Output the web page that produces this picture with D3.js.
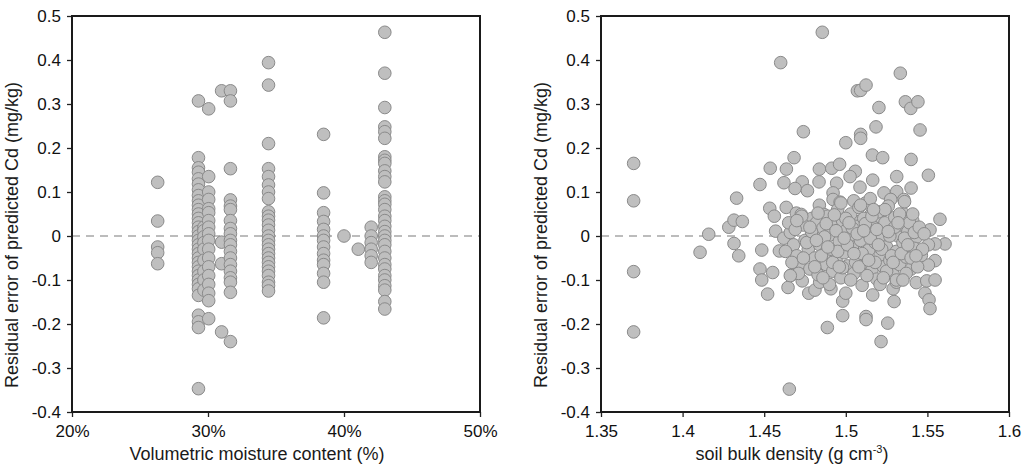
<!DOCTYPE html>
<html>
<head>
<meta charset="utf-8">
<script src="https://cdn.jsdelivr.net/npm/d3@7"></script>
<style>
  body { margin: 0; background: #fff; }
  text { font-family: "Liberation Sans", Arial, sans-serif; fill: #1a1a1a; }
</style>
</head>
<body>
<svg id="chart" width="1026" height="473"></svg>
<script>
// left panel: moisture columns and the residuals stacked in each
var moistureCols = [26.3, 29.3, 29.7, 30.05, 31.0, 31.65, 34.45, 38.5, 40.0, 41.05, 42.0, 43.0];
var residualByMoisture = [
  [0.122, 0.034, -0.025, -0.038, -0.063],
  [0.307, 0.178, 0.155, 0.145, 0.13, 0.118, 0.105, 0.092, 0.08, 0.07, 0.06, 0.05, 0.04, 0.03, 0.02, 0.01, 0.0,
   -0.01, -0.02, -0.03, -0.04, -0.05, -0.06, -0.07, -0.08, -0.09, -0.1, -0.11, -0.12, -0.135, -0.18, -0.195, -0.208, -0.347],
  [0.02, 0.012, -0.002, -0.015, -0.03, -0.055, -0.08, -0.1, -0.123],
  [0.289, 0.135, 0.1, 0.083, 0.062, 0.053, 0.035, 0.02, 0.005, -0.01, -0.03, -0.05, -0.07, -0.09, -0.11, -0.13, -0.147, -0.188],
  [0.33, -0.014, -0.063, -0.218],
  [0.33, 0.307, 0.153, 0.082, 0.068, 0.06, 0.035, 0.017, 0.005, -0.01, -0.02, -0.035, -0.05, -0.065, -0.08, -0.095, -0.105, -0.128, -0.24],
  [0.394, 0.343, 0.21, 0.153, 0.135, 0.116, 0.1, 0.085, 0.055, 0.045, 0.036, 0.025, 0.013, 0.0, -0.01, -0.02, -0.03,
   -0.04, -0.05, -0.06, -0.07, -0.08, -0.09, -0.105, -0.113, -0.125],
  [0.231, 0.098, 0.053, 0.033, 0.015, 0.0, -0.01, -0.025, -0.04, -0.055, -0.065, -0.085, -0.105, -0.186],
  [0.0],
  [-0.03],
  [0.02, 0.0, -0.015, -0.03, -0.045, -0.06],
  [0.463, 0.37, 0.292, 0.248, 0.237, 0.222, 0.18, 0.172, 0.165, 0.148, 0.135, 0.123, 0.089, 0.08, 0.072, 0.06, 0.045,
   0.035, 0.022, 0.01, 0.0, -0.01, -0.02, -0.035, -0.05, -0.065, -0.075, -0.09, -0.1, -0.113, -0.123, -0.149, -0.166]
];

// right panel: [bulk density, residual]
var densityOuter = [
  [1.37,0.165],[1.37,0.08],[1.37,-0.081],[1.37,-0.218],[1.4856,0.463],[1.4601,0.394],[1.5334,0.37],[1.5071,0.33],
  [1.5091,0.331],[1.5124,0.343],[1.5203,0.292],[1.5365,0.305],[1.5398,0.29],[1.5442,0.305],[1.5185,0.248],
  [1.5091,0.231],[1.5091,0.222],[1.5455,0.241],[1.474,0.237],[1.5,0.212],[1.5163,0.184],[1.5226,0.178],
  [1.54,0.174],[1.4683,0.178],[1.4537,0.154],[1.4636,0.152],[1.4838,0.152],[1.4914,0.154],[1.4962,0.163],
  [1.5058,0.147],[1.5312,0.135],[1.5506,0.138],[1.5026,0.135],[1.4474,0.117],[1.4621,0.121],[1.4733,0.123],
  [1.4836,0.123],[1.4689,0.108],[1.4765,0.103],[1.4944,0.12],[1.5087,0.111],[1.5165,0.127],[1.5312,0.101],
  [1.54,0.109],[1.5234,0.098],[1.4922,0.098],[1.4331,0.086],[1.4922,0.083],[1.4965,0.077],[1.5275,0.083],
  [1.5356,0.083],[1.4534,0.063],[1.4635,0.065],[1.4838,0.07],[1.5049,0.08],[1.5121,0.075],[1.4562,0.045],
  [1.4283,0.02],[1.4315,0.036],[1.4366,0.033],[1.4697,0.052],[1.4727,0.049],[1.4792,0.04],[1.4866,0.049],
  [1.4961,0.038],[1.501,0.04],[1.5083,0.033],[1.5155,0.049],[1.5195,0.044],[1.5355,0.05],[1.5384,0.033],
  [1.5577,0.038],[1.5516,0.014],[1.5436,0.02],[1.416,0.004],[1.469,0.022],[1.457,0.011],[1.485,0.013],
  [1.4904,0.017],[1.4972,0.013],[1.5102,0.005],[1.5199,0.013],[1.5279,0.013],
  [1.4107,-0.037],[1.4315,-0.017],[1.4344,-0.045],[1.4485,-0.032],[1.4474,-0.075],[1.4485,-0.1],[1.4521,-0.132],
  [1.4552,-0.083],[1.4593,-0.034],[1.4664,-0.089],[1.4646,-0.117],[1.4733,-0.102],[1.4773,-0.13],[1.4811,-0.123],
  [1.484,-0.105],[1.4887,-0.208],[1.4654,-0.348],[1.4909,-0.12],[1.4981,-0.181],[1.4981,-0.148],[1.5,-0.13],
  [1.5124,-0.183],[1.5124,-0.19],[1.5165,-0.134],[1.5216,-0.24],[1.5257,-0.198],[1.5296,-0.149],[1.529,-0.12],
  [1.531,-0.105],[1.5485,-0.13],[1.551,-0.145],[1.5516,-0.165],[1.5432,-0.106],[1.5496,-0.102],[1.5547,-0.1],
  [1.5547,-0.056],[1.5506,-0.066],[1.5463,-0.044],[1.5608,-0.018],[1.5547,-0.018],[1.5506,-0.02],[1.5435,-0.002]
];
var densityCore = [
  [1.462,-0.005],[1.466,0.008],[1.468,-0.02],[1.470,-0.045],[1.472,-0.062],[1.474,0.025],[1.475,-0.01],[1.477,-0.03],
  [1.478,-0.075],[1.480,0.005],[1.481,-0.05],[1.482,0.03],[1.483,-0.088],[1.484,-0.02],[1.486,0.018],[1.487,-0.04],
  [1.488,-0.065],[1.489,0.045],[1.490,0.002],[1.491,-0.03],[1.492,-0.08],[1.493,0.025],[1.494,-0.055],[1.495,0.06],
  [1.496,-0.012],[1.497,-0.095],[1.498,0.035],[1.499,-0.038],[1.500,0.012],[1.501,-0.068],[1.502,-0.005],[1.503,0.05],
  [1.504,-0.025],[1.505,-0.085],[1.506,0.022],[1.507,-0.048],[1.508,0.065],[1.509,-0.01],[1.510,-0.112],[1.511,0.04],
  [1.512,-0.06],[1.513,0.008],[1.514,-0.032],[1.515,0.085],[1.516,-0.078],[1.517,0.02],[1.518,-0.015],[1.519,-0.098],
  [1.520,0.055],[1.521,-0.045],[1.522,0.003],[1.523,-0.07],[1.524,0.03],[1.525,-0.025],[1.526,0.068],[1.527,-0.055],
  [1.528,0.012],[1.529,-0.088],[1.530,0.042],[1.531,-0.035],[1.532,0.0],[1.533,-0.065],[1.534,0.025],[1.535,-0.015],
  [1.536,0.078],[1.537,-0.048],[1.538,0.01],[1.540,-0.075],[1.541,0.035],[1.542,-0.028],
  [1.463,-0.035],[1.465,0.03],[1.467,-0.06],[1.469,0.015],[1.471,-0.085],[1.473,0.045],[1.476,-0.015],[1.479,0.01],
  [1.481,-0.07],[1.483,0.052],[1.485,-0.045],[1.487,-0.002],[1.488,0.028],[1.490,-0.11],[1.492,-0.06],[1.494,0.012],
  [1.495,-0.035],[1.497,0.075],[1.498,-0.072],[1.500,0.04],[1.501,-0.02],[1.503,-0.1],[1.504,0.018],[1.506,-0.06],
  [1.507,0.005],[1.509,0.07],[1.510,-0.04],[1.512,0.028],[1.513,-0.09],[1.515,-0.005],[1.516,0.045],[1.518,-0.06],
  [1.519,0.015],[1.521,-0.11],[1.522,-0.03],[1.524,0.06],[1.525,-0.08],[1.527,0.0],[1.528,-0.045],[1.530,0.02],
  [1.531,-0.1],[1.533,0.05],[1.534,-0.04],[1.536,-0.005],[1.537,-0.085],[1.539,0.03],[1.540,-0.05],[1.542,0.008],
  [1.544,-0.07],[1.545,0.02],[1.547,-0.03],[1.548,0.005],
  [1.466,-0.09],[1.470,0.035],[1.474,-0.05],[1.478,0.02],[1.482,-0.01],[1.486,-0.095],[1.489,-0.025],[1.493,0.048],
  [1.496,-0.07],[1.499,-0.005],[1.502,0.03],[1.505,-0.04],[1.508,-0.07],[1.511,0.012],[1.514,-0.055],[1.517,0.06],
  [1.520,-0.02],[1.523,-0.095],[1.526,0.01],[1.529,-0.06],[1.532,0.03],[1.535,-0.1],[1.538,-0.02],[1.541,0.05],
  [1.543,-0.045]
];

var yTicks = [-0.4, -0.3, -0.2, -0.1, 0, 0.1, 0.2, 0.3, 0.4, 0.5];
var moistureTicks = [20, 30, 40, 50];
var densityTicks = [1.35, 1.4, 1.45, 1.5, 1.55, 1.6];

var svg = d3.select("#chart");
var top_ = 16, bottom = 412;

function panel(opt) {
  var x = d3.scaleLinear().domain(opt.xdom).range([opt.left, opt.right]);
  var y = d3.scaleLinear().domain([-0.4, 0.5]).range([bottom, top_]);
  var g = svg.append("g");

  // zero reference line
  g.append("line")
    .attr("x1", opt.left).attr("x2", opt.right)
    .attr("y1", y(0)).attr("y2", y(0))
    .style("stroke", "#a6a6a6").style("stroke-width", 1.5)
    .style("stroke-dasharray", "8,6");

  g.append("g").selectAll("circle")
    .data(opt.points)
    .enter().append("circle")
    .attr("cx", function (d) { return x(d[0]); })
    .attr("cy", function (d) { return y(d[1]); })
    .attr("r", 6.3)
    .style("fill", "#bfbfbf").style("stroke", "#8a8a8a").style("stroke-width", 1);

  var ax = g.append("g").attr("transform", "translate(0," + bottom + ")")
    .call(d3.axisBottom(x).tickValues(opt.xticks).tickSize(5).tickPadding(8).tickFormat(opt.xfmt));
  var ay = g.append("g").attr("transform", "translate(" + opt.left + ",0)")
    .call(d3.axisLeft(y).tickValues(yTicks).tickSize(5).tickPadding(6)
      .tickFormat(function (d) { return d === 0 ? "0" : d.toFixed(1); }));
  [ax, ay].forEach(function (a) {
    a.select(".domain").remove();
    a.selectAll("line").style("stroke", "#222").style("stroke-width", 1.3);
    a.selectAll("text").style("font-size", "17px").style("fill", "#111")
      .style("font-family", '"Liberation Sans", Arial, sans-serif');
  });

  g.append("rect")
    .attr("x", opt.left).attr("y", top_)
    .attr("width", opt.right - opt.left).attr("height", bottom - top_)
    .style("fill", "none").style("stroke", "#1a1a1a").style("stroke-width", 2);

  g.append("text")
    .attr("transform", "translate(" + (opt.left - 54) + ",235) rotate(-90)")
    .attr("text-anchor", "middle").style("font-size", "18px")
    .text("Residual error of predicted Cd (mg/kg)");

  var t = g.append("text")
    .attr("x", opt.titleX).attr("y", 460)
    .attr("text-anchor", "middle").style("font-size", "18px");
  opt.title(t);
}

var leftPoints = [];
moistureCols.forEach(function (m, i) {
  residualByMoisture[i].forEach(function (r) { leftPoints.push([m, r]); });
});

panel({
  left: 72, right: 480, xdom: [20, 50], xticks: moistureTicks,
  xfmt: function (d) { return d + "%"; },
  points: leftPoints, titleX: 257,
  title: function (t) { t.text("Volumetric moisture content (%)"); }
});

panel({
  left: 601, right: 1009, xdom: [1.35, 1.6], xticks: densityTicks,
  xfmt: function (d) { return String(+d.toFixed(2)); },
  points: densityOuter.concat(densityCore), titleX: 792,
  title: function (t) {
    t.append("tspan").text("soil bulk density (g cm");
    t.append("tspan").attr("dy", -7).style("font-size", "11px").text("-3");
    t.append("tspan").attr("dy", 7).text(")");
  }
});
</script>
</body>
</html>
